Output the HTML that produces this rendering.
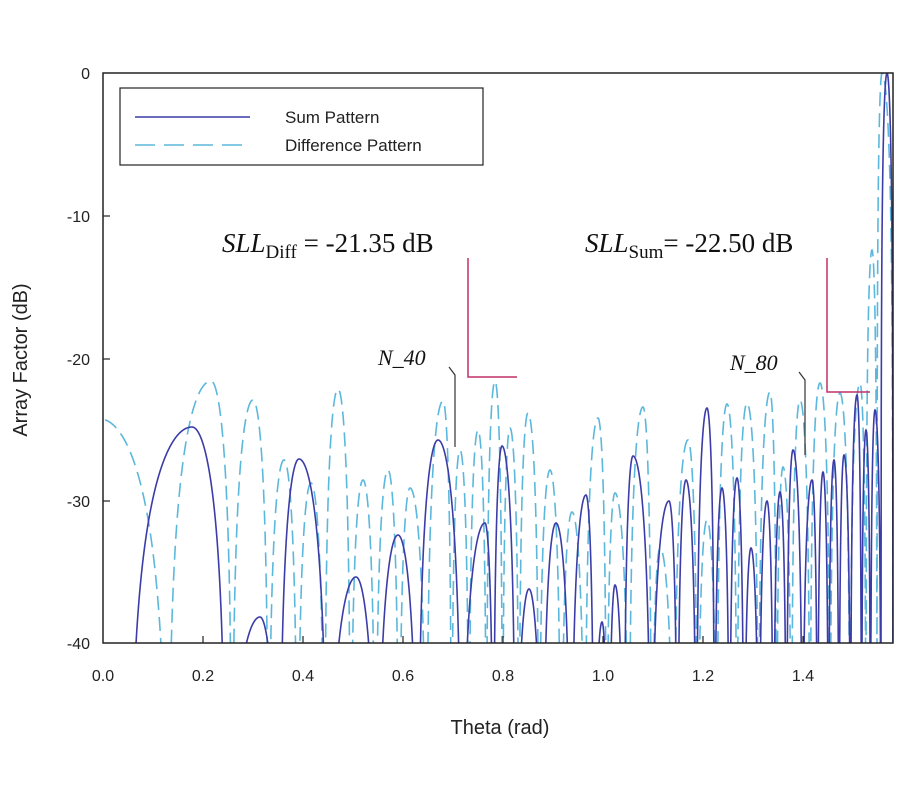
<!DOCTYPE html>
<html><head><meta charset="utf-8"><style>
body{margin:0;background:#fff;}
svg text{font-family:"Liberation Sans",sans-serif;}
</style></head><body>
<svg id="s" width="900" height="800" xmlns="http://www.w3.org/2000/svg">
<defs><clipPath id="c"><rect x="103" y="73" width="790" height="570"/></clipPath></defs>
<g id="curves" clip-path="url(#c)"></g>
<rect x="103" y="73" width="790" height="570" fill="none" stroke="#222" stroke-width="1.5"/>
<g stroke="#222" stroke-width="1.2">
<line x1="103" y1="216" x2="110" y2="216"/><line x1="103" y1="359" x2="110" y2="359"/><line x1="103" y1="501" x2="110" y2="501"/>
<line x1="203" y1="643" x2="203" y2="636"/><line x1="303" y1="643" x2="303" y2="636"/><line x1="403" y1="643" x2="403" y2="636"/><line x1="503" y1="643" x2="503" y2="636"/><line x1="603" y1="643" x2="603" y2="636"/><line x1="703" y1="643" x2="703" y2="636"/><line x1="803" y1="643" x2="803" y2="636"/>
</g>
<g font-size="16" fill="#222" text-anchor="end">
<text x="90" y="79">0</text><text x="90" y="222">-10</text><text x="90" y="365">-20</text><text x="90" y="507">-30</text><text x="90" y="649">-40</text>
</g>
<g font-size="16" fill="#222" text-anchor="middle">
<text x="103" y="681">0.0</text><text x="203" y="681">0.2</text><text x="303" y="681">0.4</text><text x="403" y="681">0.6</text><text x="503" y="681">0.8</text><text x="603" y="681">1.0</text><text x="703" y="681">1.2</text><text x="803" y="681">1.4</text>
</g>
<text x="500" y="734" font-size="20" text-anchor="middle" fill="#222">Theta (rad)</text>
<text transform="translate(27,360) rotate(-90)" font-size="20" text-anchor="middle" fill="#222">Array Factor (dB)</text>
<rect x="120" y="88" width="363" height="77" fill="#fff" stroke="#222" stroke-width="1.2"/>
<line x1="135" y1="117" x2="250" y2="117" stroke="#3c3ca8" stroke-width="1.6"/>
<line x1="135" y1="145" x2="250" y2="145" stroke="#5bb8dc" stroke-width="1.6" stroke-dasharray="20,9"/>
<text x="285" y="123" font-size="17" fill="#222">Sum Pattern</text>
<text x="285" y="151" font-size="17" fill="#222">Difference Pattern</text>
<g fill="#111" font-size="27">
<text x="222" y="252" style="font-family:'Liberation Serif',serif"><tspan font-style="italic">SLL</tspan><tspan font-size="19" dy="6">Diff</tspan><tspan dy="-6"> = -21.35 dB</tspan></text>
<text x="585" y="252" style="font-family:'Liberation Serif',serif"><tspan font-style="italic">SLL</tspan><tspan font-size="19" dy="6">Sum</tspan><tspan dy="-6">= -22.50 dB</tspan></text>
<text x="378" y="365" font-size="22" font-style="italic" style="font-family:'Liberation Serif',serif">N_40</text>
<text x="730" y="370" font-size="22" font-style="italic" style="font-family:'Liberation Serif',serif">N_80</text>
</g>
<g fill="none" stroke="#c0306a" stroke-width="1.5">
<polyline points="468,258 468,377 517,377"/><polyline points="827,258 827,392 870,392"/>
</g>
<g fill="none" stroke="#333" stroke-width="1.2">
<polyline points="449,367 455,375 455,447"/><polyline points="799,372 805,380 805,455"/>
</g>
</svg>
<script>
function y2db(y){return -(y-73)/14.25;}
function db2y(d){return 73-d*14.25;}
function build(lobes,firstNull,lastNull){
  var pts=[];
  for(var i=0;i<lobes.length;i++){
    var c=lobes[i][0],pk=y2db(lobes[i][1]);
    var l=i==0?firstNull:(lobes[i].length>2?lobes[i][2]:(lobes[i-1][0]+c)/2);
    var r=i==lobes.length-1?lastNull:(lobes[i+1].length>2?lobes[i+1][2]:(lobes[i+1][0]+c)/2);
    for(var x=l;x<=r;x+=0.25){
      var v;
      if(x<=c) v=Math.sin(Math.PI/2*(x-l)/(c-l)); else v=Math.sin(Math.PI/2*(r-x)/(r-c));
      var d=pk+20*Math.log10(Math.max(v,1e-4));
      if(d<-41)d=-41;
      pts.push(x.toFixed(2)+','+db2y(d).toFixed(2));
    }
  }
  return pts.join(' ');
}
var sum=[[192,427],[260,617],[299,459],[356,577],[398,535],[438,440],[485,523],[502,446],[529,589],[556,523],[586,495],[602,622],[615,585],[633,456],[669,501],[686,480],[707,408],[722,488],[737,478],[751,548],[767,501],[780,492],[793,450],[812,480],[823,472],[834,460],[844,455],[857,395],[866,430],[875,410],[887,73]];
var diff=[[100,419],[211,381,168],[253,400],[284,460],[311,483],[338,389],[363,480],[388,470],[410,488],[443,401],[460,450],[478,430],[495,381],[510,428],[528,413],[550,470],[572,512],[598,418],[615,493],[643,407],[660,548],[688,440],[707,520],[727,404],[747,403],[770,392],[783,467],[800,400],[820,383],[840,393],[860,383],[872,250],[882,73]];
var g=document.getElementById('curves');
var ns='http://www.w3.org/2000/svg';
var p2=document.createElementNS(ns,'polyline');
p2.setAttribute('points',build(diff,20,893));
p2.setAttribute('fill','none');p2.setAttribute('stroke','#5bb8dc');p2.setAttribute('stroke-width','1.6');p2.setAttribute('stroke-dasharray','14,7');
g.appendChild(p2);
var p1=document.createElementNS(ns,'polyline');
p1.setAttribute('points',build(sum,129,893));
p1.setAttribute('fill','none');p1.setAttribute('stroke','#3c3ca8');p1.setAttribute('stroke-width','1.6');
g.appendChild(p1);
</script>
</body></html>
